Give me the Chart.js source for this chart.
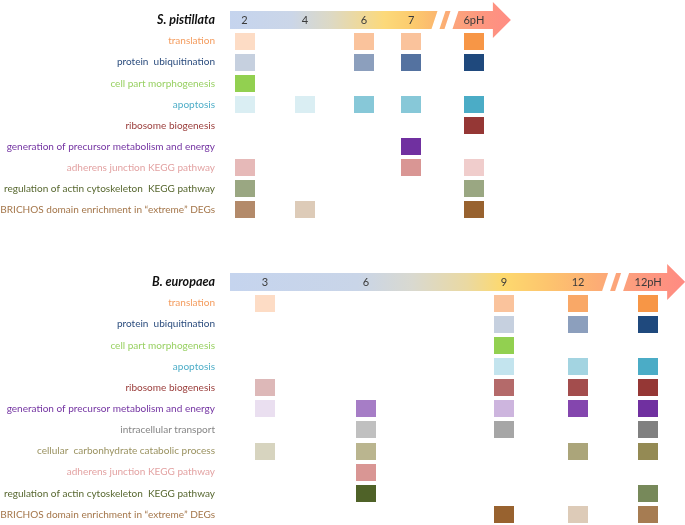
<!DOCTYPE html>
<html><head><meta charset="utf-8">
<script src="https://cdn.jsdelivr.net/npm/chart.js@4.4.1/dist/chart.umd.min.js"></script>
<style>
html,body{margin:0;padding:0;background:#fff;width:685px;height:525px;overflow:hidden}
canvas{position:absolute;left:0}
#c1{top:0}
#c2{top:258px}
</style></head>
<body>
<canvas id="c1" width="685" height="232"></canvas>
<canvas id="c2" width="685" height="267"></canvas>
<script>
// ---------------- DATA ----------------
// Stylophora pistillata panel
const spTitle = 'S. pistillata';
const spStages = ['2', '4', '6', '7', '6pH'];
const spStagePos = [3.2, 16.5, 29.45, 39.8, 53.6];   // tick positions along the stage axis (0-100)
const spPathways = ['translation', 'protein  ubiquitination', 'cell part morphogenesis', 'apoptosis',
  'ribosome biogenesis', 'generation of precursor metabolism and energy', 'adherens junction KEGG pathway',
  'regulation of actin cytoskeleton  KEGG pathway', 'BRICHOS domain enrichment in \u201cextreme\u201d DEGs'];
// enrichment shade level (1 light .. 5 strong, 0 = not enriched), one value per pathway
const sp2   = [1, 1, 5, 1, 0, 0, 2, 1, 3];
const sp4   = [0, 0, 0, 1, 0, 0, 0, 0, 1];
const sp6   = [2, 2, 0, 4, 0, 0, 0, 0, 0];
const sp7   = [2, 3, 0, 4, 0, 5, 5, 0, 0];
const sp6pH = [5, 5, 0, 5, 5, 0, 1, 1, 5];

// Berghia europaea panel
const beTitle = 'B. europaea';
const beStages = ['3', '6', '9', '12', '12pH'];
const beStagePos = [7.7, 29.9, 60.2, 76.5, 91.9];
const bePathways = ['translation', 'protein  ubiquitination', 'cell part morphogenesis', 'apoptosis',
  'ribosome biogenesis', 'generation of precursor metabolism and energy', 'intracellular transport',
  'cellular  carbonhydrate catabolic process', 'adherens junction KEGG pathway',
  'regulation of actin cytoskeleton  KEGG pathway', 'BRICHOS domain enrichment in \u201cextreme\u201d DEGs'];
const be3    = [1, 0, 0, 0, 1, 1, 0, 1, 0, 0, 0];
const be6    = [0, 0, 0, 0, 0, 3, 1, 2, 5, 5, 0];
const be9    = [2, 1, 5, 2, 2, 2, 2, 0, 0, 0, 5];
const be12   = [3, 2, 0, 3, 3, 4, 0, 3, 0, 0, 1];
const be12pH = [5, 5, 0, 5, 5, 5, 5, 5, 0, 3, 4];

// ---------------- STYLES ----------------
const pathwayStyle = {
  'translation':            {text: '#F49C5E', shades: ['#FDDCC5', '#FAC39C', '#F9A867', '#F89E56', '#F79646']},
  'protein  ubiquitination':{text: '#2C4D7E', shades: ['#C6D0DF', '#8C9FBD', '#5472A0', '#365C8E', '#1F497D']},
  'cell part morphogenesis':{text: '#98D062', shades: ['#C9E8A8', '#B5DF88', '#A5D86E', '#9BD45E', '#92D050']},
  'apoptosis':              {text: '#4FAEC8', shades: ['#DAEEF3', '#C3E4EE', '#A3D4E1', '#87C8D8', '#4BACC6']},
  'ribosome biogenesis':    {text: '#9A3D3B', shades: ['#DDB8B8', '#B46A6A', '#A34D4D', '#9C4240', '#953735']},
  'generation of precursor metabolism and energy': {text: '#7434A2', shades: ['#EADFF0', '#CDB5DE', '#A67DC6', '#8446AE', '#7030A0']},
  'intracellular transport':{text: '#868686', shades: ['#C0C0C0', '#A6A6A6', '#999999', '#8C8C8C', '#808080']},
  'cellular  carbonhydrate catabolic process': {text: '#9A9260', shades: ['#D7D4BF', '#BAB58F', '#ABA57A', '#A09868', '#948A54']},
  'adherens junction KEGG pathway': {text: '#E3A3A3', shades: ['#F0CDCC', '#E6B9B8', '#E0A8A6', '#DC9F9D', '#D99694']},
  'regulation of actin cytoskeleton  KEGG pathway': {text: '#57672F', shades: ['#9AA782', '#89986E', '#77895A', '#637641', '#4F6228']},
  'BRICHOS domain enrichment in \u201cextreme\u201d DEGs': {text: '#A4764A', shades: ['#DDCBB8', '#C8AA8E', '#B38A6A', '#A67C52', '#98622F']}
};
const FAMILY = 'Lato, "Open Sans", sans-serif';

function fitSize(text, target, spec) {
  const c = document.createElement('canvas').getContext('2d');
  c.font = spec + ' 20px ' + FAMILY;
  return 20 * target / c.measureText(text).width;
}
const labelSize = fitSize('BRICHOS domain enrichment in \u201cextreme\u201d DEGs', 215, 'normal normal');
const titleSize = fitSize('S. pistillata', 58, 'italic bold');

const tileCache = {};
function tile(color) {
  if (!tileCache[color]) {
    const c = document.createElement('canvas');
    c.width = 20; c.height = 17;
    const g = c.getContext('2d');
    g.fillStyle = color; g.fillRect(0, 0, 20, 17);
    tileCache[color] = c;
  }
  return tileCache[color];
}

const stageArrow = {
  id: 'stageArrow',
  beforeDatasetsDraw(chart, args, o) {
    const {ctx, scales: {x, y}} = chart;
    const cy = y.getPixelForValue(0);
    const px = o.pos.map(p => x.getPixelForValue(p));
    const left = chart.chartArea.left;
    const h = 9, hh = 18;
    const m = (px[3] + px[4]) / 2;
    const base = px[4] + 19, tip = base + 18;
    const grad = ctx.createLinearGradient(left, 0, tip, 0);
    o.stops.forEach(([f, c]) => grad.addColorStop(f, c));
    ctx.save();
    ctx.fillStyle = grad;
    ctx.beginPath();
    ctx.moveTo(left, cy - h); ctx.lineTo(m - 5, cy - h); ctx.lineTo(m - 11, cy + h); ctx.lineTo(left, cy + h);
    ctx.closePath(); ctx.fill();
    ctx.beginPath();
    ctx.moveTo(m + 3, cy - h); ctx.lineTo(m + 8, cy - h); ctx.lineTo(m + 2, cy + h); ctx.lineTo(m - 3, cy + h);
    ctx.closePath(); ctx.fill();
    ctx.beginPath();
    ctx.moveTo(m + 16, cy - h); ctx.lineTo(base, cy - h); ctx.lineTo(base, cy - hh); ctx.lineTo(tip, cy);
    ctx.lineTo(base, cy + hh); ctx.lineTo(base, cy + h); ctx.lineTo(m + 10, cy + h);
    ctx.closePath(); ctx.fill();
    ctx.fillStyle = '#3b3b3b';
    ctx.font = (labelSize * 1.1).toFixed(2) + 'px ' + FAMILY;
    ctx.textAlign = 'center'; ctx.textBaseline = 'middle';
    o.labels.forEach((t, i) => ctx.fillText(t, px[i], cy + 0.5));
    ctx.restore();
  }
};

function makePanel(canvasId, title, stages, stagePos, pathways, series, stops, padTop, padBottom) {
  const cats = [title].concat(pathways);
  const datasets = stages.map((st, c) => ({
    label: st,
    data: pathways.map((p, i) => series[c][i] ? {x: stagePos[c], y: p, level: series[c][i]} : null).filter(Boolean),
    pointStyle: ctx => {
      const r = ctx.raw;
      return r ? tile(pathwayStyle[r.y].shades[r.level - 1]) : 'rect';
    },
    pointRadius: 10, pointHoverRadius: 10
  }));
  return new Chart(document.getElementById(canvasId), {
    type: 'scatter',
    data: {datasets},
    plugins: [stageArrow],
    options: {
      responsive: false, animation: false, events: [],
      layout: {autoPadding: false, padding: {top: padTop, bottom: padBottom, left: 0, right: 0}},
      plugins: {
        legend: {display: false}, tooltip: {enabled: false},
        stageArrow: {pos: stagePos, labels: stages, stops}
      },
      scales: {
        x: {type: 'linear', min: 0, max: 100, display: false},
        y: {
          type: 'category', labels: cats, offset: true,
          grid: {display: false, drawTicks: false}, border: {display: false},
          afterFit: s => { s.width = 230; s.paddingTop = 0; s.paddingBottom = 0; },
          ticks: {
            autoSkip: false, padding: 15,
            font: ctx => ctx.index === 0
              ? {family: FAMILY, size: titleSize, style: 'italic', weight: 'bold'}
              : {family: FAMILY, size: labelSize, style: 'normal', weight: 'normal'},
            color: ctx => ctx.index === 0 ? '#111111' : pathwayStyle[cats[ctx.index]].text
          }
        }
      }
    }
  });
}

makePanel('c1', spTitle, spStages, spStagePos, spPathways, [sp2, sp4, sp6, sp7, sp6pH],
  [[0, '#C5D4EE'], [0.22, '#CBD6E8'], [0.36, '#DDD9C4'], [0.55, '#FCD97A'], [0.65, '#FCCB6E'],
   [0.73, '#FBB86F'], [0.8, '#FCA47C'], [0.9, '#FD967F'], [1, '#FF8C84']], 9.45, 11.55);
makePanel('c2', beTitle, beStages, beStagePos, bePathways, [be3, be6, be9, be12, be12pH],
  [[0, '#C5D4EE'], [0.28, '#C9D5E8'], [0.4, '#D9D9D0'], [0.52, '#EAD9A2'], [0.6, '#FDD96E'],
   [0.7, '#FDC46E'], [0.8, '#FCAE74'], [0.88, '#FC9E7E'], [1, '#FF8A82']], 13.4, 0);
</script>
</body></html>
